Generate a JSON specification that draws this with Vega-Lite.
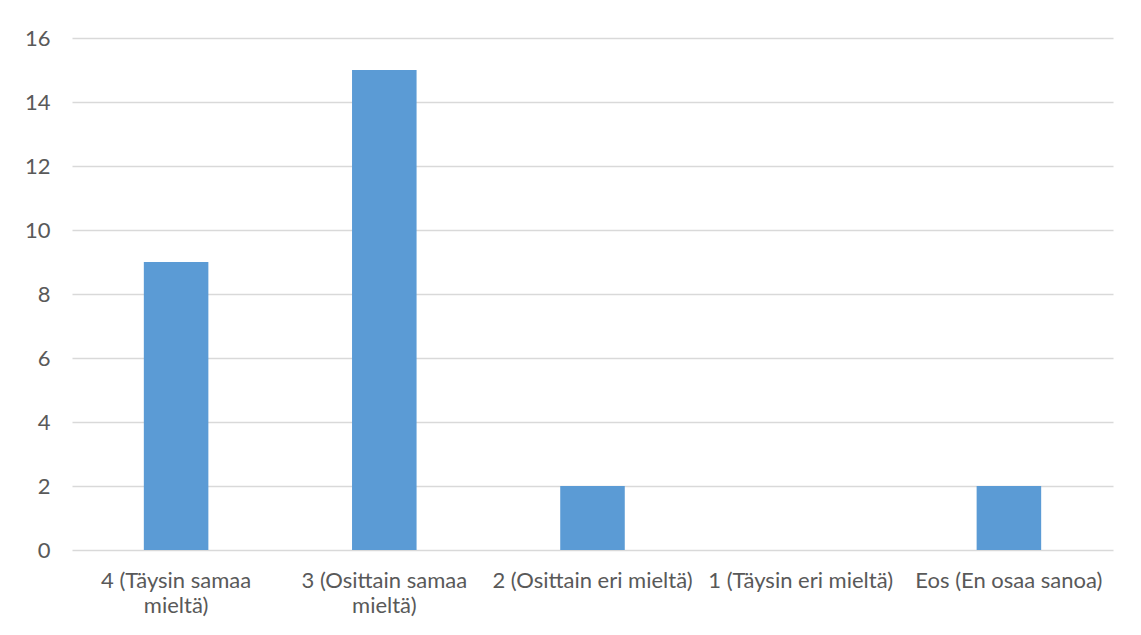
{
  "$schema": "https://vega.github.io/schema/vega-lite/v6.json",
  "width": 1041,
  "height": 512,
  "autosize": "none",
  "padding": {"left": 72, "top": 38, "right": 28, "bottom": 85},
  "background": "white",
  "data": {
    "values": [
      {"vastaus": "4 (Täysin samaa mieltä)", "lkm": 9},
      {"vastaus": "3 (Osittain samaa mieltä)", "lkm": 15},
      {"vastaus": "2 (Osittain eri mieltä)", "lkm": 2},
      {"vastaus": "1 (Täysin eri mieltä)", "lkm": 0},
      {"vastaus": "Eos (En osaa sanoa)", "lkm": 2}
    ]
  },
  "mark": {"type": "bar", "color": "#5b9bd5"},
  "encoding": {
    "x": {
      "field": "vastaus",
      "type": "nominal",
      "sort": null,
      "scale": {"paddingInner": 0.69, "paddingOuter": 0.345},
      "axis": {
        "title": null,
        "labelAngle": 0,
        "ticks": false,
        "domain": false,
        "labelPadding": 20,
        "labelFontSize": 22,
        "labelLineHeight": 25,
        "labelLimit": 0,
        "labelExpr": "datum.value == '4 (Täysin samaa mieltä)' ? ['4 (Täysin samaa', 'mieltä)'] : datum.value == '3 (Osittain samaa mieltä)' ? ['3 (Osittain samaa', 'mieltä)'] : datum.value"
      }
    },
    "y": {
      "field": "lkm",
      "type": "quantitative",
      "scale": {"domain": [0, 16], "nice": false},
      "axis": {
        "title": null,
        "values": [0, 2, 4, 6, 8, 10, 12, 14, 16],
        "ticks": false,
        "domain": false,
        "labelPadding": 22,
        "labelFontSize": 22,
        "gridColor": "#d9d9d9",
        "gridWidth": 1.3
      }
    }
  },
  "config": {
    "view": {"stroke": null},
    "axis": {"labelFont": "Lato", "labelColor": "#595959"}
  }
}
